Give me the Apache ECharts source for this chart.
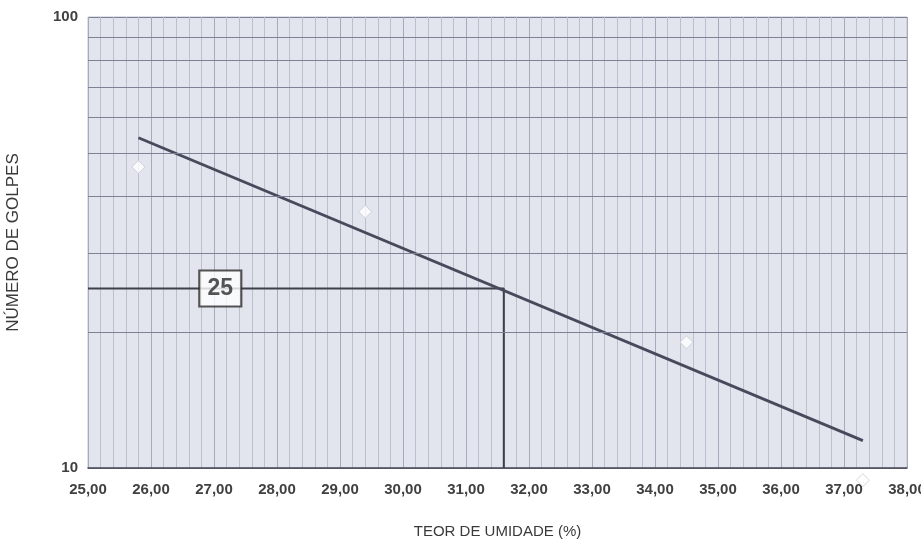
<!DOCTYPE html>
<html>
<head>
<meta charset="utf-8">
<script src="https://cdn.jsdelivr.net/npm/echarts@6/dist/echarts.min.js"></script>
<style>
html,body{margin:0;padding:0;background:#fff;}
#c{width:921px;height:541px;}
</style>
</head>
<body>
<div id="c"></div>
<script>
// Data
var pointsX = [25.8, 29.4, 34.5, 37.3];
var pointsY = [46.5, 37, 19, 9.4];
var trendX = [25.8, 37.3];
var trendY = [54, 11.5];
var refX = [25, 31.6, 31.6];
var refY = [25, 25, 10];
var labelX = 27.1;
var labelValue = 25;
var hGridValues = [20, 30, 40, 50, 60, 70, 80, 90];
var xTickMin = 25, xTickMax = 38;
var yTickMin = 10, yTickMax = 100;

function zip(a, b) { return a.map(function (v, i) { return [v, b[i]]; }); }

var chart = echarts.init(document.getElementById('c'), null, {renderer: 'canvas'});
var fontFam = '"Liberation Sans", Arial, sans-serif';

chart.setOption({
  animation: false,
  backgroundColor: '#ffffff',
  grid: {left: 88, right: 14, top: 17, bottom: 73, containLabel: false, outerBoundsMode: 'none',
    show: true, backgroundColor: '#e2e4ee', borderColor: '#c0c3d0', borderWidth: 1},
  xAxis: {
    type: 'value', min: xTickMin, max: xTickMax, interval: 1,
    name: 'TEOR DE UMIDADE (%)', nameLocation: 'middle', nameGap: 56,
    nameTextStyle: {fontFamily: fontFam, fontSize: 15, color: '#3a3a3a'},
    axisLine: {show: true, lineStyle: {color: '#4a4a55', width: 1.5}},
    axisTick: {show: false},
    axisLabel: {margin: 14, fontFamily: fontFam, fontSize: 15, fontWeight: 'bold', color: '#404040',
      formatter: function (v) { return v.toFixed(2).replace('.', ','); }},
    splitLine: {show: true, lineStyle: {color: '#a6aabc', width: 1}},
    minorTick: {show: false, splitNumber: 5},
    minorSplitLine: {show: true, lineStyle: {color: '#bcbfce', width: 1}}
  },
  yAxis: {
    type: 'log', logBase: 10, min: yTickMin, max: yTickMax,
    name: 'NÚMERO DE GOLPES', nameLocation: 'middle', nameGap: 66, nameRotate: 90,
    nameTextStyle: {fontFamily: fontFam, fontSize: 17, color: '#3a3a3a'},
    axisLine: {show: false},
    axisTick: {show: false},
    axisLabel: {margin: 10, fontFamily: fontFam, fontSize: 15, fontWeight: 'bold', color: '#404040'},
    splitLine: {show: true, lineStyle: {color: '#7d8195', width: 1}}
  },
  series: [
    {
      type: 'line', data: [], silent: true,
      markLine: {
        silent: true, symbol: 'none', label: {show: false},
        lineStyle: {color: '#7d8195', width: 1.2, type: 'solid'},
        data: hGridValues.map(function (v) { return {yAxis: v}; })
      }
    },
    {
      type: 'line', data: zip(refX, refY), symbol: 'none',
      lineStyle: {color: '#3d3f4a', width: 2}, z: 3
    },
    {
      type: 'line', data: zip(trendX, trendY), symbol: 'none',
      lineStyle: {color: '#474a5a', width: 2.8}, z: 4
    },
    {
      type: 'scatter', data: zip(pointsX, pointsY), symbol: 'diamond', symbolSize: 13,
      clip: false,
      itemStyle: {color: '#ffffff', borderColor: '#c8cad4', borderWidth: 1}, z: 5
    },
    {
      type: 'scatter', data: [[labelX, labelValue]], symbol: 'rect', symbolSize: [42, 36],
      itemStyle: {color: '#ffffff', borderColor: '#2a2a2a', borderWidth: 2}, z: 6,
      label: {show: true, position: 'inside', formatter: String(labelValue),
        fontFamily: fontFam, fontSize: 23, fontWeight: 'bold', color: '#2a2a2a'}
    }
  ]
});
</script>
</body>
</html>
